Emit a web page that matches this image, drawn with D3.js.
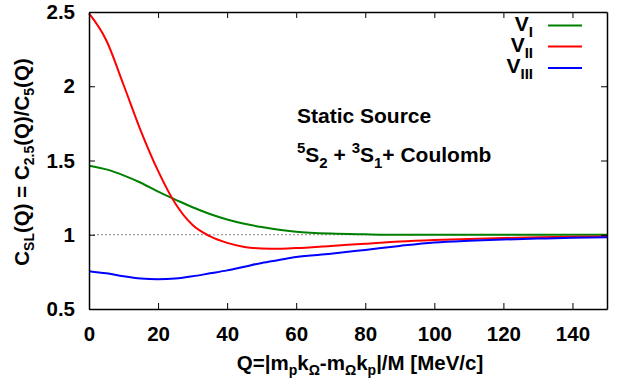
<!DOCTYPE html>
<html>
<head>
<meta charset="utf-8">
<script src="https://cdn.jsdelivr.net/npm/d3@7"></script>
<style>
  body { margin: 0; background: #fff; }
  svg text { font-family: "Liberation Sans", Arial, sans-serif; font-weight: bold; }
</style>
</head>
<body>
<svg id="chart"></svg>
<script>
// 数据
var qValues = [0, 5, 10, 15, 20, 25, 30, 35, 40, 45, 50, 55, 60, 70, 80, 90, 100, 110, 120, 130, 140, 150];
var vI   = [1.465, 1.44, 1.40, 1.35, 1.29, 1.237, 1.185, 1.14, 1.103, 1.074, 1.052, 1.034, 1.021, 1.008, 1.003, 1.0, 1.0, 1.0, 1.0, 1.0, 1.0, 1.0];
var vII  = [2.49, 2.31, 2.01, 1.70, 1.43, 1.21, 1.065, 0.99, 0.945, 0.918, 0.907, 0.905, 0.91, 0.925, 0.94, 0.955, 0.965, 0.972, 0.978, 0.983, 0.986, 0.988];
var vIII = [0.755, 0.74, 0.72, 0.705, 0.70, 0.705, 0.72, 0.74, 0.76, 0.785, 0.81, 0.83, 0.85, 0.872, 0.898, 0.925, 0.948, 0.96, 0.968, 0.974, 0.979, 0.983];
var xTicks = [0, 20, 40, 60, 80, 100, 120, 140];
var yTicks = [0.5, 1, 1.5, 2, 2.5];

var series = [
    {name: "V", sub: "I", values: vI, color: "#008000"},
    {name: "V", sub: "II", values: vII, color: "#ff0000"},
    {name: "V", sub: "III", values: vIII, color: "#0000ff"}
];

var width = 617;
var height = 381;
var margin = {top: 12, right: 10, bottom: 72, left: 89};

var svg = d3.select("#chart")
    .attr("width", width)
    .attr("height", height);

var x = d3.scaleLinear()
    .domain([0, 150])
    .range([margin.left, width - margin.right]);

var y = d3.scaleLinear()
    .domain([0.5, 2.5])
    .range([height - margin.bottom, margin.top]);

// 参考线 y=1
svg.append("line")
    .attr("x1", x(0)).attr("x2", x(150))
    .attr("y1", y(1)).attr("y2", y(1))
    .attr("stroke", "#888")
    .attr("stroke-width", 1)
    .style("stroke-dasharray", "2, 2");

// 折线
var line = d3.line()
    .x((d, i) => x(qValues[i]))
    .y(d => y(d))
    .curve(d3.curveMonotoneX);

series.forEach(s => {
    svg.append("path")
        .datum(s.values)
        .attr("fill", "none")
        .attr("stroke", s.color)
        .attr("stroke-width", 2)
        .attr("d", line);
});

// 坐标轴 (刻度朝内, 四边)
var tickLen = 6;
var xAxis = svg.append("g")
    .attr("transform", `translate(0,${y(0.5)})`)
    .call(d3.axisBottom(x).tickValues(xTicks).tickSizeInner(-tickLen).tickSizeOuter(0).tickPadding(17));
var xAxisTop = svg.append("g")
    .attr("transform", `translate(0,${y(2.5)})`)
    .call(d3.axisTop(x).tickValues(xTicks).tickSizeInner(-tickLen).tickSizeOuter(0).tickFormat(""));
var yAxis = svg.append("g")
    .attr("transform", `translate(${x(0)},0)`)
    .call(d3.axisLeft(y).tickValues(yTicks).tickSizeInner(-tickLen).tickSizeOuter(0).tickPadding(14).tickFormat(d3.format("")));
var yAxisRight = svg.append("g")
    .attr("transform", `translate(${x(150)},0)`)
    .call(d3.axisRight(y).tickValues(yTicks).tickSizeInner(-tickLen).tickSizeOuter(0).tickFormat(""));

[xAxis, xAxisTop, yAxis, yAxisRight].forEach(g => {
    g.select(".domain").attr("stroke", "#000").attr("stroke-width", 1.5);
    g.selectAll(".tick line").attr("stroke", "#000").attr("stroke-width", 1);
    g.selectAll("text")
        .attr("fill", "#000")
        .style("font-size", "20.5px")
        .style("font-family", "'Liberation Sans', Arial, sans-serif")
        .style("font-weight", "bold");
});

// 图例
var legendX = 533;
var legendY = [25.5, 46.5, 68];
series.forEach((s, i) => {
    var t = svg.append("text")
        .attr("x", legendX)
        .attr("y", legendY[i] + 5)
        .attr("text-anchor", "end")
        .style("font-size", "21px");
    t.append("tspan").text(s.name);
    t.append("tspan").attr("dy", 6).style("font-size", "15px").text(s.sub);
    svg.append("line")
        .attr("x1", 548).attr("x2", 582)
        .attr("y1", legendY[i]).attr("y2", legendY[i])
        .attr("stroke", s.color)
        .attr("stroke-width", 2);
});

// 注释文字
svg.append("text")
    .attr("x", 297)
    .attr("y", 123)
    .style("font-size", "21px")
    .text("Static Source");

var ann = svg.append("text")
    .attr("x", 297)
    .attr("y", 162)
    .style("font-size", "21px");
ann.append("tspan").attr("dy", -9).style("font-size", "15px").text("5");
ann.append("tspan").attr("dy", 9).text("S");
ann.append("tspan").attr("dy", 6).style("font-size", "15px").text("2");
ann.append("tspan").attr("dy", -6).text(" + ");
ann.append("tspan").attr("dy", -9).style("font-size", "15px").text("3");
ann.append("tspan").attr("dy", 9).text("S");
ann.append("tspan").attr("dy", 6).style("font-size", "15px").text("1");
ann.append("tspan").attr("dy", -6).text("+ Coulomb");

// x 轴标题
var xt = svg.append("text")
    .attr("x", 360)
    .attr("y", 370)
    .attr("text-anchor", "middle")
    .style("font-size", "20.5px");
xt.append("tspan").text("Q=|m");
xt.append("tspan").attr("dy", 5).style("font-size", "14px").text("p");
xt.append("tspan").attr("dy", -5).text("k");
xt.append("tspan").attr("dy", 5).style("font-size", "14px").text("Ω");
xt.append("tspan").attr("dy", -5).text("-m");
xt.append("tspan").attr("dy", 5).style("font-size", "14px").text("Ω");
xt.append("tspan").attr("dy", -5).text("k");
xt.append("tspan").attr("dy", 5).style("font-size", "14px").text("p");
xt.append("tspan").attr("dy", -5).text("|/M [MeV/c]");

// y 轴标题
var yt = svg.append("text")
    .attr("transform", "translate(29,162) rotate(-90)")
    .attr("text-anchor", "middle")
    .style("font-size", "20.5px");
yt.append("tspan").text("C");
yt.append("tspan").attr("dy", 5).style("font-size", "14px").text("SL");
yt.append("tspan").attr("dy", -5).text("(Q) = C");
yt.append("tspan").attr("dy", 5).style("font-size", "14px").text("2.5");
yt.append("tspan").attr("dy", -5).text("(Q)/C");
yt.append("tspan").attr("dy", 5).style("font-size", "14px").text("5");
yt.append("tspan").attr("dy", -5).text("(Q)");
</script>
</body>
</html>
